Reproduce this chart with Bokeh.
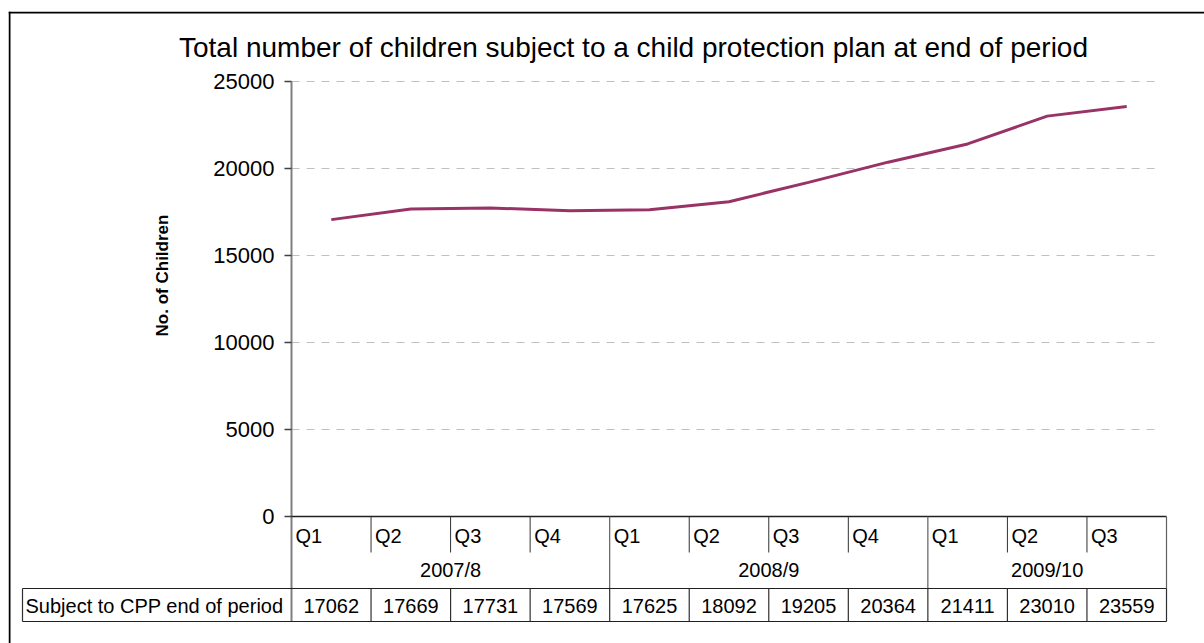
import math
from bokeh.plotting import figure
from bokeh.models import Range1d, Span, ColumnDataSource
from bokeh.core.properties import value
from bokeh.embed import file_html
from bokeh.resources import INLINE

# ---------------- data ----------------
title = "Total number of children subject to a child protection plan at end of period"
quarters = ["Q1", "Q2", "Q3", "Q4", "Q1", "Q2", "Q3", "Q4", "Q1", "Q2", "Q3"]
year_of = ["2007/8"] * 4 + ["2008/9"] * 4 + ["2009/10"] * 3
children = [17062, 17669, 17731, 17569, 17625, 18092, 19205, 20364, 21411, 23010, 23559]
y_ticks = [0, 5000, 10000, 15000, 20000, 25000]
row_label = "Subject to CPP end of period"
y_label = "No. of Children"

# ---------------- layout (pixel anchors) ----------------
W, H = 1204, 643
FL, FT = 8, 11            # outer frame left / top
AX_X0, AX_X1 = 291, 1166  # category band left / right
AX_Y0, AX_Y1 = 516, 81    # pixel of 0 and of the top tick
n = len(children)
sx = (AX_X1 - AX_X0) / n
sy = (AX_Y0 - AX_Y1) / max(y_ticks)


def dx(px):
    return (px - AX_X0) / sx


def dy(py):
    return (AX_Y0 - py) / sy


FONT = value("Liberation Sans")

p = figure(width=W, height=H, output_backend="svg", toolbar_location=None,
           x_range=Range1d(dx(FL), dx(W)), y_range=Range1d(dy(H), dy(FT)),
           x_axis_type=None, y_axis_type=None,
           min_border_left=FL, min_border_top=FT,
           min_border_right=0, min_border_bottom=0,
           outline_line_color=None, background_fill_color="white",
           border_fill_color="white")

# outer border (top and left visible)
p.add_layout(Span(location=dy(FT + 1), dimension="width", line_color="black", line_width=2))
p.add_layout(Span(location=dx(FL + 1), dimension="height", line_color="black", line_width=2))

# gridlines
grid_y = y_ticks[1:]
p.segment(x0=[0] * len(grid_y), x1=[dx(1158)] * len(grid_y), y0=grid_y, y1=grid_y,
          line_color="#c0c0c0", line_width=1, line_dash="8 7")

# y axis line and ticks
p.segment(x0=[0], x1=[0], y0=[dy(621)], y1=[max(y_ticks)], line_color="#808080", line_width=2)
p.segment(x0=[dx(284)] * len(y_ticks), x1=[0] * len(y_ticks), y0=y_ticks, y1=y_ticks,
          line_color="#404040", line_width=1.5)
p.text(x=[dx(274)] * len(y_ticks), y=y_ticks, text=[str(t) for t in y_ticks],
       text_font=FONT, text_font_size="22px", text_align="right",
       text_baseline="middle", text_color="black")

# x axis line
p.segment(x0=[0], x1=[n], y0=[0], y1=[0], line_color="#202020", line_width=1.5)

# group boundaries
bounds = [i for i in range(1, n) if year_of[i] != year_of[i - 1]]
inner = [i for i in range(1, n) if i not in bounds]
p.segment(x0=inner, x1=inner, y0=[0] * len(inner), y1=[dy(552)] * len(inner),
          line_color="#303030", line_width=1)
edges = bounds + [n]
p.segment(x0=edges, x1=edges, y0=[0] * len(edges), y1=[dy(588)] * len(edges),
          line_color="#606060", line_width=1.2)

# data row of table
row_x = [dx(22)] + list(range(1, n + 1))
p.segment(x0=row_x, x1=row_x, y0=[dy(588)] * len(row_x), y1=[dy(621)] * len(row_x),
          line_color="#303030", line_width=1.2)
p.segment(x0=[dx(22), dx(22)], x1=[n, n], y0=[dy(588), dy(621)], y1=[dy(588), dy(621)],
          line_color="#202020", line_width=1.2)

# quarter labels
p.text(x=[i + 4 / sx for i in range(n)], y=[dy(524)] * n, text=quarters,
       text_font=FONT, text_font_size="20px", text_align="left", text_baseline="top",
       text_color="black")

# year labels
groups = []
for i, yv in enumerate(year_of):
    if not groups or groups[-1][0] != yv:
        groups.append([yv, i, i + 1])
    else:
        groups[-1][2] = i + 1
p.text(x=[(g[1] + g[2]) / 2 for g in groups], y=[dy(569)] * len(groups),
       text=[g[0] for g in groups], text_font=FONT, text_font_size="20px",
       text_align="center", text_baseline="middle", text_color="black")

# table values
xc = [i + 0.5 for i in range(n)]
p.text(x=xc, y=[dy(605)] * n, text=[str(v) for v in children],
       text_font=FONT, text_font_size="20px", text_align="center",
       text_baseline="middle", text_color="black")
p.text(x=[dx(25)], y=[dy(605)], text=[row_label], text_font=FONT, text_font_size="20px",
       text_align="left", text_baseline="middle", text_color="black")

# series line
src = ColumnDataSource(dict(x=xc, y=children))
p.line("x", "y", source=src, line_color="#993366", line_width=3)

# y axis title
p.text(x=[dx(162)], y=[dy(275)], text=[y_label], angle=math.pi / 2,
       text_font=FONT, text_font_size="17px", text_font_style="bold",
       text_align="center", text_baseline="middle", text_color="black")

# chart title
p.text(x=[dx(633)], y=[dy(47)], text=[title], text_font=FONT, text_font_size="28px",
       text_align="center", text_baseline="middle", text_color="black")

open("out.html", "w").write(file_html(p, INLINE))
